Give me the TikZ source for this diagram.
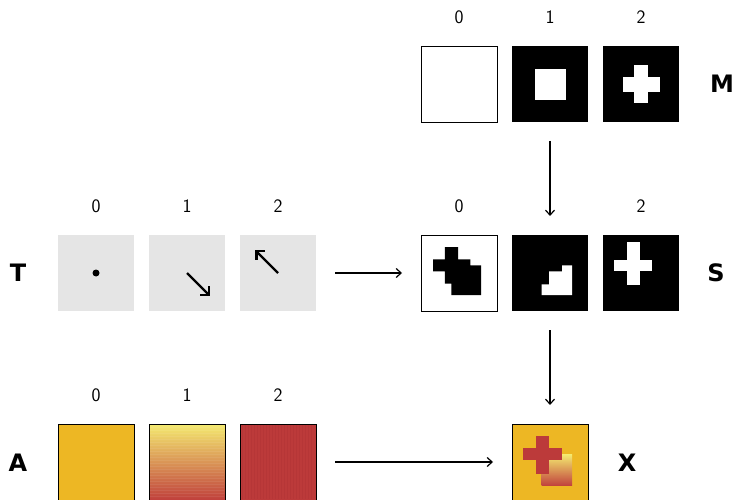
\documentclass[tikz,border=0pt]{standalone}
\usepackage{fontspec}
\newfontfamily\dvs{DejaVu Sans}
\usetikzlibrary{arrows.meta}
\definecolor{ora}{RGB}{237,183,36}
\definecolor{rd}{RGB}{188,58,58}
\definecolor{rdd}{RGB}{176,50,52}
\definecolor{yl}{RGB}{244,234,112}
\definecolor{gbot}{RGB}{192,64,60}
\definecolor{tgray}{RGB}{229,229,229}
\begin{document}
\begin{tikzpicture}[x=1pt,y=-1pt,
  box/.style={minimum size=76pt, inner sep=0pt, outer sep=0pt, anchor=north west},
  bd/.style={draw=black, line width=0.9pt},
  dig/.style={font=\sffamily\fontsize{19}{22}\selectfont, inner sep=0pt, yshift=29pt},
  rowlbl/.style={font=\dvs\bfseries\fontsize{24}{28}\selectfont, inner sep=0pt},
  conn/.style={line width=1.2pt, -{Straight Barb[length=5pt,width=9pt]}, shorten <=19pt, shorten >=19pt},
  tarr/.style={line width=2.3pt, -{Straight Barb[length=6pt,width=12pt]}},
  inbox/.style={shift={(#1.north west)}, x=76pt, y=-76pt}]
\useasboundingbox (0,0) rectangle (737,500);
% ---- M row
\node[box, bd, fill=white] (M0) at (421,46) {};
\node[box, fill=black] (M1) at (512,46) {};
\node[box, fill=black] (M2) at (603,46) {};
% ---- S row
\node[box, bd, fill=white] (S0) at (421,235) {};
\node[box, fill=black] (S1) at (512,235) {};
\node[box, fill=black] (S2) at (603,235) {};
% ---- T row
\node[box, fill=tgray] (T0) at (58,235) {};
\node[box, fill=tgray] (T1) at (149,235) {};
\node[box, fill=tgray] (T2) at (240,235) {};
% ---- A row
\node[box, bd, fill=ora] (A0) at (58,424) {};
\node[box, bd, top color=yl, bottom color=gbot] (A1) at (149,424) {};
\node[box, bd, fill=rd] (A2) at (240,424) {};
% ---- X
\node[box, bd, fill=ora] (X) at (512,424) {};

% contents
\begin{scope}[inbox=M1]
  \fill[white] (0.30,0.30) rectangle (0.71,0.71);
\end{scope}
\begin{scope}[inbox=M2]
  \fill[white] (0.257,0.405) rectangle (0.748,0.60);
  \fill[white] (0.41,0.25) rectangle (0.596,0.75);
\end{scope}
\begin{scope}[inbox=S0]
  \fill[black] (0.313,0.16) -- (0.487,0.16) -- (0.487,0.32) -- (0.648,0.32) -- (0.648,0.4) -- (0.79,0.4) -- (0.79,0.79) -- (0.4,0.79) -- (0.4,0.64) -- (0.313,0.64) -- (0.313,0.48) -- (0.16,0.48) -- (0.16,0.32) -- (0.313,0.32) -- cycle;
\end{scope}
\begin{scope}[inbox=S1]
  \fill[white] (0.39,0.79) -- (0.79,0.79) -- (0.79,0.4) -- (0.66,0.4) -- (0.66,0.48) -- (0.487,0.48) -- (0.487,0.65) -- (0.39,0.65) -- cycle;
\end{scope}
\begin{scope}[inbox=S2]
  \fill[white] (0.148,0.33) rectangle (0.64,0.48);
  \fill[white] (0.322,0.09) rectangle (0.487,0.66);
\end{scope}
\begin{scope}[inbox=T0]
  \fill[black] (0.5,0.5) circle[radius=3.5pt];
\end{scope}
\begin{scope}[inbox=T1]
  \draw[tarr] (0.5,0.5) -- (0.8,0.8);
\end{scope}
\begin{scope}[inbox=T2]
  \draw[tarr] (0.5,0.5) -- (0.2,0.2);
\end{scope}
\begin{scope}[shift={(A2.north west)}]
  \foreach \i in {2,5,...,72} \fill[rdd, opacity=0.45] (\i,1) rectangle (\i+1.2,75);
\end{scope}
\begin{scope}[shift={(A1.north west)}]
  \foreach \j in {3,6,...,72} \fill[white, opacity=0.07] (1,\j) rectangle (75,\j+1.2);
\end{scope}
\begin{scope}[inbox=X]
  \shade[top color=yl, bottom color=gbot] (0.39,0.4) rectangle (0.79,0.813);
  \fill[rd] (0.148,0.32) rectangle (0.652,0.478);
  \fill[rd] (0.313,0.16) rectangle (0.487,0.652);
\end{scope}

% digit labels
\node[dig] (lM0) at (M0.north) {0};
\node[dig] (lM1) at (M1.north) {1};
\node[dig] (lM2) at (M2.north) {2};
\node[dig] (lS0) at (S0.north) {0};
\node[dig] (lS2) at (S2.north) {2};
\node[dig] (lT0) at (T0.north) {0};
\node[dig] (lT1) at (T1.north) {1};
\node[dig] (lT2) at (T2.north) {2};
\node[dig] (lA0) at (A0.north) {0};
\node[dig] (lA1) at (A1.north) {1};
\node[dig] (lA2) at (A2.north) {2};

% row letters
\node[rowlbl] (rM) at (722,84) {M};
\node[rowlbl] (rS) at (716,273) {S};
\node[rowlbl] (rT) at (18,273) {T};
\node[rowlbl] (rA) at (18,463) {A};
\node[rowlbl] (rX) at (627,463) {X};

% connectors
\draw[conn] (M1) -- (S1);
\draw[conn] (T2) -- (S0);
\draw[conn] (S1) -- (X);
\draw[conn] (A2) -- (X);
\end{tikzpicture}
\end{document}
